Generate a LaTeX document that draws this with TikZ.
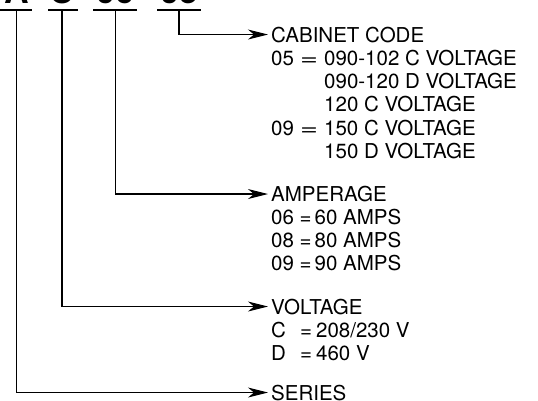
\documentclass[tikz,border=0pt]{standalone}
\usepackage{fontspec}
\setmainfont{TeX Gyre Heros}
\usetikzlibrary{arrows.meta}
\newcommand{\codeline}[4]{\rlap{#1}\hspace{#2pt}\rlap{=}\hspace{#3pt}#4}
\newcommand{\widecodeline}[4]{\rlap{#1}\hspace{#2pt}\rlap{\scalebox{1.5}[1]{=}}\hspace{#3pt}#4}
\begin{document}
\begin{tikzpicture}[x=1pt,y=-1pt,
  txt/.style={anchor=base west,inner sep=0pt,font=\fontsize{20.5}{23}\selectfont},
  big/.style={anchor=base,inner sep=0pt,font=\fontsize{34}{36}\selectfont\bfseries},
  uline/.style={line width=1.1pt},
  conn/.style={line width=1.1pt,-{Stealth[length=20pt,width=10pt,inset=6pt]},shorten >=3pt}]
\useasboundingbox (0,0) rectangle (538,400);
\clip (0,0) rectangle (538,400);
% top code characters (cut off at the top edge, as in the reference)
\node[big] (cA) at (16.7,3) {A};
\node[big] (cC) at (62,3) {C};
\node[big] (c06) at (115.7,3) {06};
\node[big] (c05) at (179,3) {05};
% underlines
\draw[uline] (0,10) -- (32,10);
\draw[uline] (48,10) -- (78,10);
\draw[uline] (93,10) -- (137,10);
\draw[uline] (157,10) -- (201,10);
\coordinate (u1) at (16.7,10);
\coordinate (u2) at (62,10);
\coordinate (u3) at (115.7,10);
\coordinate (u4) at (179,10);
% cabinet code
\node[txt] (cab) at (271,42) {CABINET CODE};
\node[txt] (cab1) at (271,65) {\widecodeline{05}{29}{24}{090-102 C VOLTAGE}};
\node[txt] (cab2) at (324,88) {090-120 D VOLTAGE};
\node[txt] (cab3) at (324,111.5) {120 C VOLTAGE};
\node[txt] (cab4) at (271,135) {\widecodeline{09}{29}{24}{150 C VOLTAGE}};
\node[txt] (cab5) at (324,158) {150 D VOLTAGE};
% amperage
\node[txt] (amp) at (271,201.5) {AMPERAGE};
\node[txt] (amp1) at (271,224) {\codeline{06}{28.5}{15}{60 AMPS}};
\node[txt] (amp2) at (271,247) {\codeline{08}{28.5}{15}{80 AMPS}};
\node[txt] (amp3) at (271,270) {\codeline{09}{28.5}{15}{90 AMPS}};
% voltage
\node[txt] (vol) at (271,314) {VOLTAGE};
\node[txt] (vol1) at (271,337) {\codeline{C}{29}{16}{208/230 V}};
\node[txt] (vol2) at (271,360) {\codeline{D}{29}{16}{460 V}};
% series
\node[txt] (ser) at (271,400) {SERIES};
% connectors
\draw[conn] (u4) |- (cab.west);
\draw[conn] (u3) |- (amp.west);
\draw[conn] (u2) |- (vol.west);
\draw[conn] (u1) |- (ser.west);
\end{tikzpicture}
\end{document}
